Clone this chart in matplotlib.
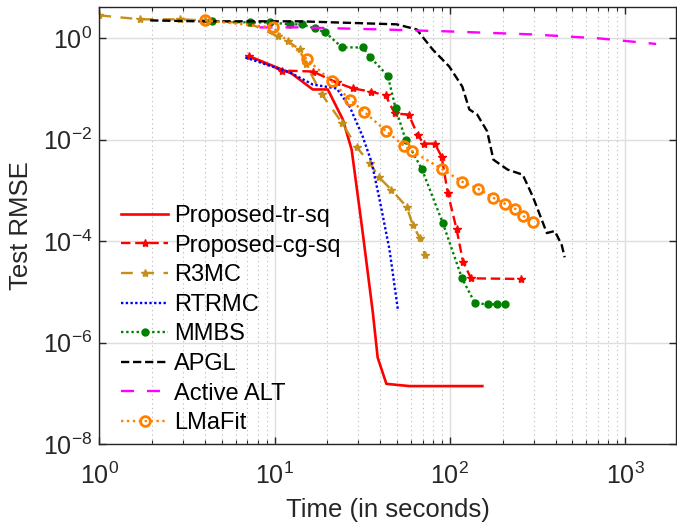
import matplotlib.pyplot as plt
import matplotlib.ticker as mticker
import numpy as np

plt.rcParams['font.family'] = ['Liberation Sans', 'DejaVu Sans']
plt.rcParams['mathtext.default'] = 'regular'

# time (s) / test RMSE
tr_t = [7.2, 12.5, 16.5, 20.1, 24.5, 27.5, 31.8, 36.3, 38.7, 43.4, 58.6, 153]
tr_e = [0.432, 0.199, 0.0966, 0.0966, 0.0247, 0.0063, 1.46e-4, 4.0e-6, 5.1e-7, 1.55e-7, 1.4e-7, 1.4e-7]

cg_t = [7.1, 11.0, 16.5, 22.6, 27.9, 35.3, 43.0, 48.4, 58.2, 65.6, 70.9, 81.9, 89.6, 97.1, 109, 118.8, 132, 254]
cg_e = [0.432, 0.228, 0.218, 0.1325, 0.101, 0.088, 0.0735, 0.0325, 0.031, 0.012, 0.0083, 0.0083,
        0.00462, 0.0009, 1.74e-4, 3.88e-5, 1.85e-5, 1.8e-5]

r3_t = [1.0, 1.71, 2.88, 4.0, 7.2, 10.4, 11.9, 13.9, 15.1, 18.6, 24.2, 29.4, 34.8, 39.4, 46.4, 56.7, 61.4, 67.3, 71.9]
r3_e = [2.78, 2.32, 2.32, 2.21, 1.93, 1.07, 0.853, 0.593, 0.30, 0.077, 0.0215, 0.007, 0.0035, 0.0018,
        0.00102, 4.7e-4, 2.08e-4, 1.15e-4, 5.35e-5]

rt_t = [6.8, 12.2, 16.5, 22.6, 26.8, 31.8, 35.8, 39.7, 45.2, 50.5]
rt_e = [0.412, 0.209, 0.121, 0.101, 0.0444, 0.0114, 0.0035, 6.5e-4, 6.8e-5, 4.4e-6]

mm_t = [4.4, 7.2, 9.4, 12.2, 14.3, 16.9, 19.5, 24.2, 31.8, 34.8, 44.2, 49.0, 55.8, 69.0, 91, 117, 139, 165, 185, 207]
mm_e = [2.12, 2.02, 2.02, 1.85, 1.85, 1.54, 1.28, 0.65, 0.65, 0.43, 0.18, 0.0408, 0.01, 0.00266,
        2.28e-4, 1.87e-5, 5.98e-6, 5.7e-6, 5.7e-6, 5.7e-6]

ap_t = [1.95, 3.75, 13.9, 33.4, 49.6, 64.6, 79.6, 99, 117.6, 129, 143, 163, 177, 213, 260, 297, 357, 396, 434, 451]
ap_e = [2.21, 2.12, 2.12, 1.93, 1.85, 1.47, 0.593, 0.274, 0.110, 0.039, 0.031, 0.0145, 0.004, 0.00256,
        0.00203, 7.5e-4, 1.44e-4, 1.58e-4, 8.4e-5, 4.8e-5]

al_t = [8.2, 13.9, 39.7, 99, 297, 712, 1500]
al_e = [1.61, 1.61, 1.47, 1.34, 1.17, 0.977, 0.76]

lm_t = [4.0, 9.75, 15.3, 21.2, 26.8, 32.3, 43.4, 54.5, 60.4, 89.5, 117.6, 145, 177, 207, 236, 262, 297]
lm_e = [2.21, 1.61, 0.377, 0.139, 0.0611, 0.0354, 0.0145, 0.0076, 0.006, 0.00266, 0.00147, 0.00107,
        7.1e-4, 5.4e-4, 4.3e-4, 3.13e-4, 2.37e-4]

golden = '#c4901a'
dark = '#262626'

fig = plt.figure(figsize=(6.77, 5.26), dpi=100)
ax = fig.add_axes([0.1467, 0.1553, 0.852, 0.8308])

lw = 1.7
ax.plot(tr_t, tr_e, '-', color='red', lw=lw + 0.2, label='Proposed-tr-sq')
ax.plot(cg_t, cg_e, color='red', lw=lw, dashes=(4, 2), marker='*', ms=6, label='Proposed-cg-sq')
ax.plot(r3_t, r3_e, color=golden, lw=lw, dashes=(5, 4), marker='*', ms=6, label='R3MC')
ax.plot(rt_t, rt_e, color='blue', lw=lw, dashes=(1, 1), label='RTRMC')
ax.plot(mm_t, mm_e, color='green', lw=lw, dashes=(1, 1.2), marker='o', ms=5, label='MMBS')
ax.plot(ap_t, ap_e, color='black', lw=lw, dashes=(3.5, 1.6), label='APGL')
ax.plot(al_t, al_e, color='magenta', lw=lw, dashes=(5.5, 5.5), label='Active ALT')
ax.plot(lm_t, lm_e, color='#ff8000', lw=lw, dashes=(1, 1.5), marker='o', ms=7,
        mfc='none', mew=2.0, label='LMaFit')

ax.set_xscale('log')
ax.set_yscale('log')
ax.set_xlim(1, 1950)
ax.set_ylim(1e-8, 4)

ax.yaxis.set_major_locator(mticker.FixedLocator([1e-8, 1e-6, 1e-4, 1e-2, 1]))
ax.yaxis.set_minor_locator(mticker.NullLocator())
ax.xaxis.set_major_locator(mticker.LogLocator(base=10, numticks=10))
ax.xaxis.set_minor_locator(mticker.LogLocator(base=10, subs=np.arange(2, 10), numticks=20))
ax.xaxis.set_minor_formatter(mticker.NullFormatter())

ax.grid(True, which='major', color='#dedede', lw=1.0, ls='-')
ax.grid(True, which='minor', axis='x', color='#b8b8b8', lw=0.8, ls=(0, (1, 3)))
ax.set_axisbelow(True)

ax.tick_params(which='both', direction='in', top=True, right=True, colors=dark,
               labelsize=18, labelcolor=dark)
ax.tick_params(which='major', length=5, width=1)
ax.tick_params(which='minor', length=3, width=0.8)
ax.tick_params(axis='x', pad=13)
ax.tick_params(axis='y', pad=5)
for s in ax.spines.values():
    s.set_color(dark)
    s.set_linewidth(1.0)

ax.set_xlabel('Time (in seconds)', fontsize=18.5, color=dark, labelpad=7)
ax.set_ylabel('Test RMSE', fontsize=18.5, color=dark, labelpad=7)

leg = ax.legend(loc='upper left', bbox_to_anchor=(0.009, 0.585), frameon=False, fontsize=17,
                handlelength=2.0, handletextpad=0.25, labelspacing=0.32, borderaxespad=0.3)

fig.savefig('out.png', dpi=100)
